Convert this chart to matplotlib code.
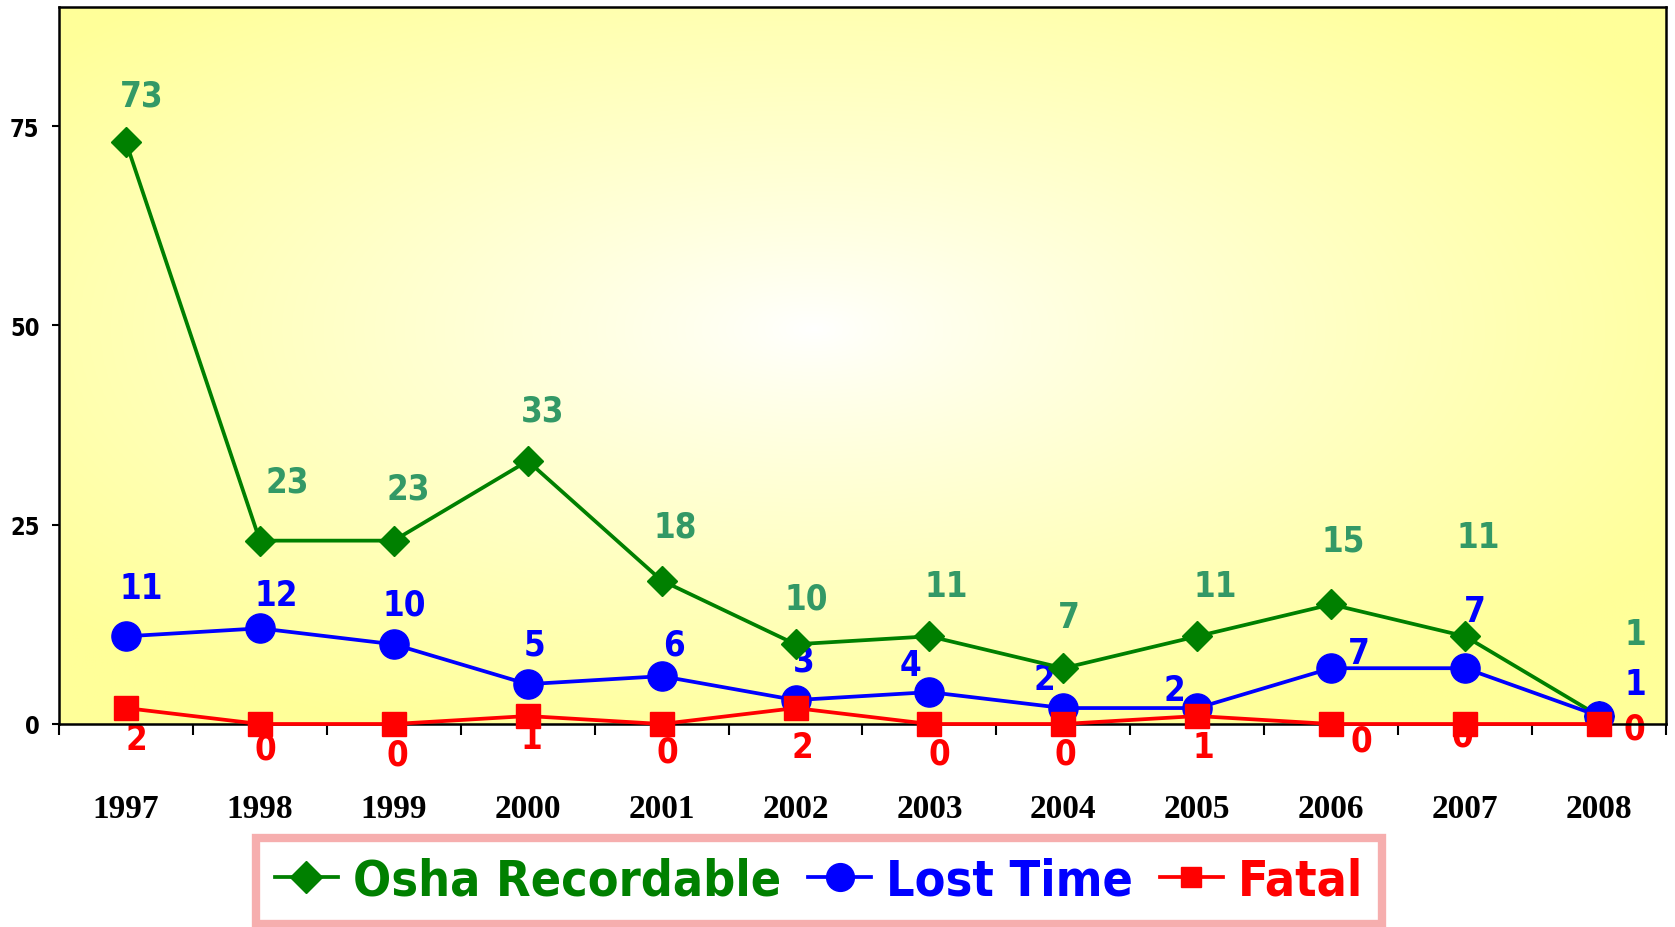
import numpy as np
import matplotlib
matplotlib.use('Agg')
import matplotlib.pyplot as plt
from matplotlib.lines import Line2D

years = ['1997', '1998', '1999', '2000', '2001', '2002', '2003', '2004', '2005', '2006', '2007', '2008']
osha = [73, 23, 23, 33, 18, 10, 11, 7, 11, 15, 11, 1]
lost = [11, 12, 10, 5, 6, 3, 4, 2, 2, 7, 7, 1]
fatal = [2, 0, 0, 1, 0, 2, 0, 0, 1, 0, 0, 0]
yticks = [0, 25, 50, 75]

# label offsets (layout, in reference pixels: dx right, dy down)
osha_off = [(15, -44), (26, -55), (14, -49), (14, -47), (13, -51), (10, -43), (16, -47), (5, -48),
            (17, -47), (11, -60), (12, -93), (34, -77)]
lost_off = [(14, -45), (15, -31), (10, -37), (6, -37), (12, -30), (8, -37), (-18, -25), (-18, -27),
            (-21, -17), (26, -14), (9, -54), (34, -30)]
fatal_off = [(10, 29), (5, 23), (3, 29), (3, 21), (5, 26), (6, 36), (9, 28), (2, 28), (6, 29),
             (28, 15), (-3, 11), (33, 4)]
PX2PT = 1.068 * 0.72

GREEN = '#008000'
LABEL_GREEN = '#339966'
BLUE = '#0000FF'
RED = '#FF0000'
SANS = dict(family='DejaVu Sans', fontweight='bold', fontstretch='condensed')

fig = plt.figure(figsize=(16.75, 9.28), dpi=100)
ax = fig.add_axes([59 / 1675, 1 - 725 / 928, (1666 - 59) / 1675, (725 - 7.5) / 928])

# gradient background: white centre to pale yellow edges
nx, ny = 400, 240
gx = np.linspace(0, 1, nx)
gy = np.linspace(0, 1, ny)
X, Y = np.meshgrid(gx, gy)
d = np.sqrt(((X - 0.47) / 0.62) ** 2 + ((Y - 0.55) / 0.62) ** 2)
d = np.clip(d, 0, 1) ** 0.85
yellow = np.array([255, 255, 153]) / 255.0
white = np.array([1.0, 1.0, 1.0])
img = white[None, None, :] * (1 - d[..., None]) + yellow[None, None, :] * d[..., None]
ax.imshow(img, extent=[0, 1, 0, 1], transform=ax.transAxes, aspect='auto', zorder=0, origin='lower')

x = np.arange(len(years))
ax.plot(x, osha, color=GREEN, lw=2.7, marker='D', ms=15.5, zorder=3, clip_on=False)
ax.plot(x, lost, color=BLUE, lw=2.7, marker='o', ms=21, zorder=4, clip_on=False)
ax.plot(x, fatal, color=RED, lw=2.7, marker='s', ms=17.5, zorder=5, clip_on=False)

for vals, offs, col in [(osha, osha_off, LABEL_GREEN), (lost, lost_off, BLUE), (fatal, fatal_off, RED)]:
    for i, (v, (dx, dy)) in enumerate(zip(vals, offs)):
        ax.annotate(str(v), (i, v), xytext=(dx * PX2PT, -dy * PX2PT), textcoords='offset points',
                    ha='center', va='center', color=col, fontsize=25, zorder=2,
                    annotation_clip=False, **SANS)

ax.set_xlim(-0.5, len(years) - 0.5)
ax.set_ylim(0, 90)
ax.set_yticks(yticks)
ax.set_yticklabels([str(t) for t in yticks], fontsize=17, **SANS)
ax.tick_params(axis='y', length=5, width=1.5, pad=9)

ax.set_xticks(x)
ax.set_xticklabels(years, fontsize=24, family='Liberation Serif', fontweight='bold')
ax.tick_params(axis='x', which='major', length=0, pad=50)
ax.set_xticks(np.arange(-0.5, len(years)), minor=True)
ax.tick_params(axis='x', which='minor', length=8, width=1.5, direction='out')
for s in ax.spines.values():
    s.set_linewidth(1.8)
    s.set_color('black')
    s.set_zorder(2.5)

handles = [Line2D([], [], color=GREEN, lw=2.7, marker='D', ms=16),
           Line2D([], [], color=BLUE, lw=2.7, marker='o', ms=20),
           Line2D([], [], color=RED, lw=2.7, marker='s', ms=15)]
labels = ['Osha Recordable', 'Lost Time', 'Fatal']
leg = fig.legend(handles, labels, loc='center', bbox_to_anchor=(0.489, 0.0496), ncol=3,
                 frameon=True, fancybox=False, handlelength=1.25, handletextpad=0.3,
                 columnspacing=0.55, borderpad=0.38,
                 prop=dict(family='DejaVu Sans', weight='bold', stretch='condensed', size=36))
leg.get_frame().set_edgecolor('#F49A9A')
leg.get_frame().set_linewidth(6)
for t, c in zip(leg.get_texts(), [GREEN, BLUE, RED]):
    t.set_color(c)

fig.savefig('out.png', dpi=100)
